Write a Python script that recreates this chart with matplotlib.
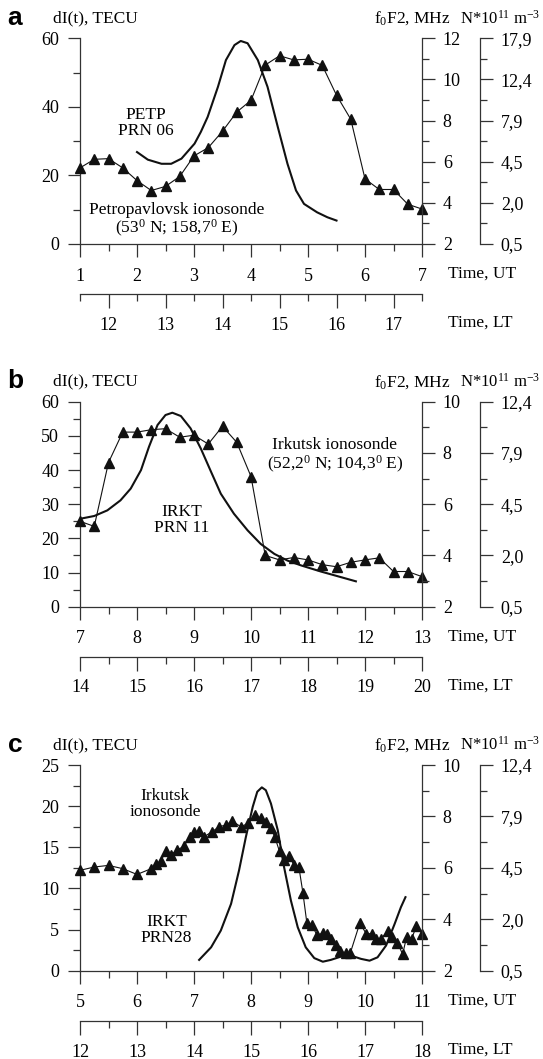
import math
import matplotlib
matplotlib.use('Agg')
import matplotlib.pyplot as plt
from matplotlib.ticker import MultipleLocator, FixedLocator

plt.rcParams['font.family'] = ['Liberation Serif', 'DejaVu Serif']
plt.rcParams['mathtext.fontset'] = 'custom'
plt.rcParams['mathtext.rm'] = 'Liberation Serif'
plt.rcParams['mathtext.it'] = 'Liberation Serif:italic'

# ---------------- data ----------------
# Panel a (Petropavlovsk, PETP PRN 06)
a_tri_ut = [1.0, 1.25, 1.5, 1.75, 2.0, 2.25, 2.5, 2.75, 3.0, 3.25, 3.5, 3.75, 4.0,
            4.25, 4.5, 4.75, 5.0, 5.25, 5.5, 5.75, 6.0, 6.25, 6.5, 6.75, 7.0]
a_tri_tec = [22.2, 24.7, 24.9, 22.2, 18.5, 15.6, 16.8, 19.7, 25.7, 28.1, 32.9, 38.5, 41.9,
             52.2, 54.9, 53.7, 53.9, 52.1, 43.4, 36.4, 19.0, 15.9, 15.9, 11.6, 10.2]
a_cur_ut = [2.0, 2.19, 2.43, 2.6, 2.78, 3.01, 3.12, 3.24, 3.42, 3.56, 3.71, 3.82, 3.94,
            4.12, 4.29, 4.47, 4.64, 4.79, 4.93, 5.16, 5.34, 5.5]
a_cur_f = [6.47, 6.10, 5.90, 5.90, 6.15, 6.88, 7.45, 8.18, 9.64, 10.94, 11.67, 11.87, 11.76,
           10.94, 9.64, 7.69, 5.90, 4.60, 3.95, 3.54, 3.30, 3.14]
a_n_labels = ['0,5', '2,0', '4,5', '7,9', '12,4', '17,9']

# Panel b (Irkutsk, IRKT PRN 11)
b_tri_ut = [7.0, 7.25, 7.5, 7.75, 8.0, 8.25, 8.5, 8.75, 9.0, 9.25, 9.5, 9.75, 10.0,
            10.25, 10.5, 10.75, 11.0, 11.25, 11.5, 11.75, 12.0, 12.25, 12.5, 12.75, 13.0]
b_tri_tec = [25.0, 23.5, 42.2, 51.1, 51.1, 51.8, 52.1, 49.6, 50.2, 47.6, 52.8, 48.1, 38.1,
             15.0, 13.7, 14.4, 13.7, 12.3, 11.7, 13.0, 13.7, 14.3, 10.3, 10.3, 8.8]
b_cur_ut = [7.0, 7.25, 7.48, 7.71, 7.89, 8.07, 8.21, 8.36, 8.5, 8.62, 8.77, 8.94, 9.12,
            9.3, 9.47, 9.7, 9.94, 10.17, 10.41, 10.64, 10.88, 11.23, 11.52, 11.84]
b_cur_f = [5.43, 5.54, 5.76, 6.15, 6.61, 7.33, 8.24, 9.09, 9.48, 9.57, 9.44, 8.96, 8.17,
           7.26, 6.41, 5.63, 4.98, 4.45, 4.06, 3.80, 3.61, 3.37, 3.19, 2.99]
b_n_labels = ['0,5', '2,0', '4,5', '7,9', '12,4']

# Panel c (Irkutsk, IRKT PRN28)
c_tri_ut = [5.0, 5.25, 5.5, 5.75, 6.0, 6.25, 6.33, 6.42, 6.5, 6.6, 6.71, 6.82, 6.93, 7.0,
            7.08, 7.18, 7.32, 7.44, 7.56, 7.67, 7.82, 7.95, 8.07, 8.17, 8.27, 8.35, 8.42,
            8.5, 8.58, 8.67, 8.75, 8.84, 8.91, 8.98, 9.07, 9.16, 9.27, 9.33, 9.41, 9.49,
            9.57, 9.66, 9.74, 9.91, 10.02, 10.12, 10.2, 10.28, 10.4, 10.48, 10.57, 10.66,
            10.73, 10.82, 10.9, 11.0]
c_tri_tec = [12.2, 12.6, 12.8, 12.4, 11.7, 12.4, 13.0, 13.3, 14.5, 14.1, 14.7, 15.1, 16.3, 16.8,
             17.0, 16.3, 16.9, 17.5, 17.7, 18.2, 17.5, 17.9, 18.9, 18.5, 18.1, 17.4, 16.2,
             14.5, 13.4, 13.9, 12.9, 12.6, 9.5, 5.8, 5.5, 4.3, 4.6, 4.5, 3.9, 3.1,
             2.4, 2.1, 2.1, 5.8, 4.5, 4.5, 3.9, 3.9, 4.8, 4.1, 3.4, 2.0,
             4.1, 3.9, 5.4, 4.5]
c_cur_ut = [7.09, 7.30, 7.47, 7.65, 7.79, 7.91, 8.03, 8.11, 8.19, 8.26, 8.35, 8.47, 8.58,
            8.70, 8.82, 8.96, 9.11, 9.26, 9.40, 9.58, 9.75, 9.93, 10.08, 10.22, 10.37,
            10.52, 10.63, 10.71]
c_cur_f = [2.42, 2.91, 3.56, 4.60, 5.90, 7.20, 8.37, 8.96, 9.13, 9.02, 8.50, 7.46, 6.03,
           4.73, 3.69, 2.91, 2.49, 2.35, 2.42, 2.55, 2.59, 2.46, 2.39, 2.52, 2.98,
           3.82, 4.47, 4.86]
c_n_labels = ['0,5', '2,0', '4,5', '7,9', '12,4']

# ---------------- figure ----------------
W, H = 543, 1059
fig = plt.figure(figsize=(W / 100, H / 100), dpi=100)
LINE = '#111111'
AX = '#333333'
TS = 13      # tick label size
FS = 12.5    # text size


def rect(x0, ytop, x1, ybot):
    return [x0 / W, 1 - ybot / H, (x1 - x0) / W, (ybot - ytop) / H]


def panel(letter, ytop, ybot, ut_lim, tec_lim, tec_major, tec_minor, f_lim, n_labels,
          lt_off, tri_x, tri_y, cur_x, cur_y, ms, texts):
    ax = fig.add_axes(rect(80, ytop, 422, ybot))
    ax.set_xlim(*ut_lim)
    ax.set_ylim(*tec_lim)
    for s in ['top', 'right']:
        ax.spines[s].set_visible(False)
    for s in ['left', 'bottom']:
        ax.spines[s].set_linewidth(0.9)
        ax.spines[s].set_color(AX)
    ax.xaxis.set_major_locator(MultipleLocator(1))
    ax.xaxis.set_minor_locator(MultipleLocator(0.5))
    ax.yaxis.set_major_locator(MultipleLocator(tec_major))
    ax.yaxis.set_minor_locator(MultipleLocator(tec_minor))
    ax.tick_params(which='major', direction='out', length=9, width=0.9, color=AX,
                   labelsize=TS)
    ax.tick_params(which='minor', direction='out', length=5, width=0.9, color=AX)
    ax.tick_params(axis='y', which='major', pad=6)
    ax.tick_params(axis='x', which='major', pad=8)
    ax.plot(tri_x, tri_y, '-', color=LINE, lw=0.8, marker='^', ms=ms, mfc=LINE,
            mec=LINE, clip_on=False, zorder=3)

    # f0F2 axis
    ax2 = ax.twinx()
    ax2.set_ylim(*f_lim)
    for s in ['top', 'left', 'bottom']:
        ax2.spines[s].set_visible(False)
    ax2.spines['right'].set_linewidth(0.9)
    ax2.spines['right'].set_color(AX)
    ax2.yaxis.set_major_locator(MultipleLocator(2))
    ax2.yaxis.set_minor_locator(MultipleLocator(1))
    ax2.tick_params(which='major', direction='out', length=9, width=0.9, color=AX,
                    labelsize=TS, pad=6)
    ax2.tick_params(which='minor', direction='out', length=5, width=0.9, color=AX)
    ax2.plot(cur_x, cur_y, '-', color=LINE, lw=1.5, zorder=2)

    # N axis
    ax3 = ax.twinx()
    ax3.set_ylim(*f_lim)
    for s in ['top', 'left', 'bottom']:
        ax3.spines[s].set_visible(False)
    ax3.spines['right'].set_position(('axes', (480 - 80) / 342))
    ax3.spines['right'].set_linewidth(0.9)
    ax3.spines['right'].set_color(AX)
    fmaj = list(range(int(f_lim[0]), int(f_lim[1]) + 1, 2))
    fmin = list(range(int(f_lim[0]) + 1, int(f_lim[1]), 2))
    ax3.yaxis.set_major_locator(FixedLocator(fmaj))
    ax3.yaxis.set_minor_locator(FixedLocator(fmin))
    ax3.set_yticklabels(n_labels)
    ax3.tick_params(which='major', direction='out', length=9, width=0.9, color=AX,
                    labelsize=TS, pad=6)
    ax3.tick_params(which='minor', direction='out', length=5, width=0.9, color=AX)

    # LT axis
    sec = ax.secondary_xaxis(-0.243, functions=(lambda x: x + lt_off,
                                                 lambda x: x - lt_off))
    lt_lo, lt_hi = ut_lim[0] + lt_off, ut_lim[1] + lt_off
    lt_major = list(range(math.ceil(lt_lo), math.floor(lt_hi) + 1))
    lt_minor = [v + 0.5 for v in range(math.floor(lt_lo), math.ceil(lt_hi))
                if lt_lo - 1e-6 <= v + 0.5 <= lt_hi + 1e-6]
    sec.xaxis.set_major_locator(FixedLocator(lt_major))
    sec.xaxis.set_minor_locator(FixedLocator(lt_minor))
    sec.spines['bottom'].set_linewidth(0.9)
    sec.spines['bottom'].set_color(AX)
    sec.tick_params(which='major', direction='out', length=10, width=0.9, color=AX,
                    labelsize=TS, pad=6.5)
    sec.tick_params(which='minor', direction='out', length=5, width=0.9, color=AX)

    # header texts
    yh = ytop - 20
    fig.text(15 / W, 1 - (yh - 0.5) / H, letter, family='Liberation Sans',
             fontweight='bold', fontsize=19, ha='center', va='center')
    fig.text(53 / W, 1 - yh / H, 'dI(t), TECU', fontsize=FS, ha='left', va='center')
    fig.text(451 / W, 1 - yh / H, r'f$_{\mathrm{0}}$F2, MHz', fontsize=FS,
             ha='right', va='center')
    fig.text(540 / W, 1 - yh / H, r'N*10$^{\mathrm{11}}$ m$^{\mathrm{-3}}$',
             fontsize=12, ha='right', va='center')
    fig.text(448 / W, 1 - (ybot + 30) / H, 'Time, UT', fontsize=FS, ha='left',
             va='center')
    fig.text(448 / W, 1 - (ybot + 79) / H, 'Time, LT', fontsize=FS, ha='left',
             va='center')

    for (tx, ty, s) in texts:
        ax.text(tx, ty, s, fontsize=FS, ha='center', va='center', linespacing=1.0,
                zorder=5)


panel('a', 38.3, 244, (1, 7), (0, 60), 20, 10, (2, 12), a_n_labels, 10.5,
      a_tri_ut, a_tri_tec, a_cur_ut, a_cur_f, 6.5,
      [(2.15, 35.4, 'PETP\nPRN 06'),
       (2.70, 6.9, 'Petropavlovsk ionosonde\n'
                   r'(53$^{\mathrm{0}}$ N; 158,7$^{\mathrm{0}}$ E)')])

panel('b', 401.7, 606.7, (7, 13), (0, 60), 10, 5, (2, 10), b_n_labels, 7,
      b_tri_ut, b_tri_tec, b_cur_ut, b_cur_f, 6.5,
      [(11.47, 44.1, 'Irkutsk ionosonde\n'
                     r'(52,2$^{\mathrm{0}}$ N; 104,3$^{\mathrm{0}}$ E)'),
       (8.79, 25.4, 'IRKT\nPRN 11')])

panel('c', 765, 970.7, (5, 11), (0, 25), 5, 2.5, (2, 10), c_n_labels, 7,
      c_tri_ut, c_tri_tec, c_cur_ut, c_cur_f, 7.0,
      [(6.49, 20.2, 'Irkutsk\nionosonde'),
       (6.52, 5.0, 'IRKT\nPRN28')])

fig.savefig('out.png', dpi=100)
